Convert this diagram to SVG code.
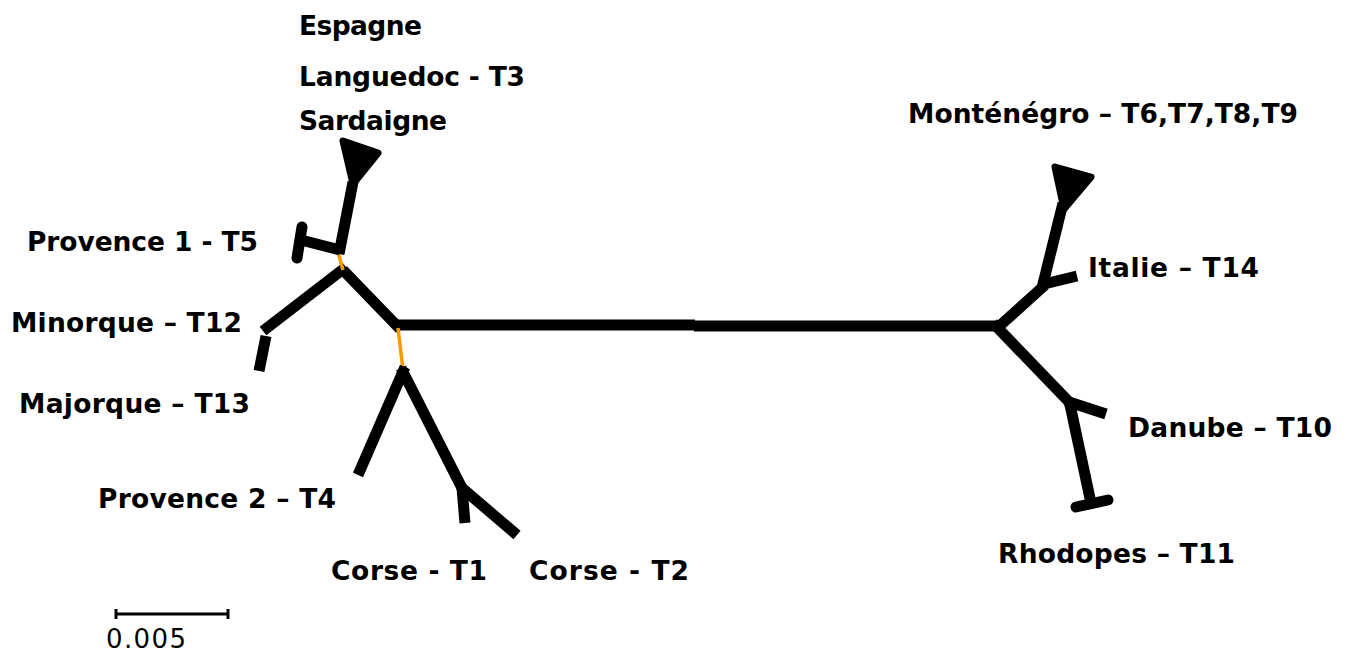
<svg xmlns="http://www.w3.org/2000/svg" width="1351" height="653" viewBox="0 0 1351 653">
<style>
.b{stroke:#000;stroke-width:11;fill:none;stroke-linecap:butt}
.r{stroke:#000;stroke-width:11;fill:none;stroke-linecap:round}
.o{stroke:#FF9900;stroke-width:3.5;fill:none}
.tri{fill:#000;stroke:#000;stroke-width:7;stroke-linejoin:round}
.lbl{font-family:"DejaVu Sans",Verdana,sans-serif;font-weight:bold;font-size:26.5px;fill:#000}
.sc{font-family:"DejaVu Sans",Verdana,sans-serif;font-size:26px;fill:#000}
</style>
<rect width="1351" height="653" fill="#fff"/>
<g id="connectors">
<line class="b" x1="397" y1="325" x2="695" y2="325"/>
<line class="b" x1="694" y1="326" x2="997" y2="326"/>
<line class="b" x1="400" y1="329" x2="343" y2="270"/>
<line class="b" x1="346" y1="267" x2="263" y2="331"/>
<line class="b" x1="266" y1="336" x2="259" y2="371"/>
<line class="o" x1="338" y1="252" x2="343" y2="270"/>
<line class="b" x1="353" y1="182" x2="339" y2="254"/>
<line class="b" x1="340" y1="250" x2="301" y2="240"/>
<line class="o" x1="398" y1="328" x2="403" y2="370"/>
<line class="b" x1="405" y1="367" x2="358" y2="475"/>
<line class="b" x1="401" y1="368" x2="464" y2="492"/>
<line class="b" x1="462" y1="488" x2="465" y2="523"/>
<line class="b" x1="462" y1="488" x2="517" y2="535"/>
<line class="b" x1="995" y1="330" x2="1045" y2="285"/>
<line class="b" x1="1063" y1="203" x2="1042" y2="288"/>
<line class="b" x1="1040" y1="285" x2="1077" y2="276"/>
<line class="b" x1="993" y1="323" x2="1072" y2="405"/>
<line class="b" x1="1066" y1="401" x2="1106" y2="414"/>
<line class="b" x1="1069" y1="400" x2="1091" y2="503"/>
</g>
<g id="node-sardaigne"><polygon class="tri" points="343,141 378,153 353,184"/></g>
<g id="node-provence1"><line class="r" x1="302" y1="227" x2="297" y2="258"/></g>
<g id="node-montenegro"><polygon class="tri" points="1055,167 1091,177 1064,209"/></g>
<g id="node-rhodopes"><line class="r" x1="1076" y1="507" x2="1108" y2="500"/></g>
<g id="labels">
<text class="lbl" x="299" y="35" textLength="123" lengthAdjust="spacing">Espagne</text>
<text class="lbl" x="299" y="86" textLength="226" lengthAdjust="spacing">Languedoc - T3</text>
<text class="lbl" x="299" y="130" textLength="148" lengthAdjust="spacing">Sardaigne</text>
<text class="lbl" x="27" y="251" textLength="231" lengthAdjust="spacing">Provence 1 - T5</text>
<text class="lbl" x="11" y="332" textLength="231" lengthAdjust="spacing">Minorque – T12</text>
<text class="lbl" x="19" y="413" textLength="231" lengthAdjust="spacing">Majorque – T13</text>
<text class="lbl" x="98" y="508" textLength="238" lengthAdjust="spacing">Provence 2 – T4</text>
<text class="lbl" x="331" y="580" textLength="156" lengthAdjust="spacing">Corse - T1</text>
<text class="lbl" x="529" y="580" textLength="160" lengthAdjust="spacing">Corse - T2</text>
<text class="lbl" x="908" y="123" textLength="390" lengthAdjust="spacing">Monténégro – T6,T7,T8,T9</text>
<text class="lbl" x="1088" y="277" textLength="171" lengthAdjust="spacing">Italie – T14</text>
<text class="lbl" x="1128" y="437" textLength="204" lengthAdjust="spacing">Danube – T10</text>
<text class="lbl" x="998" y="563" textLength="237" lengthAdjust="spacing">Rhodopes – T11</text>
</g>
<g id="scale">
<line x1="116" y1="614" x2="228" y2="614" stroke="#000" stroke-width="3"/>
<line x1="116" y1="609" x2="116" y2="619" stroke="#000" stroke-width="3"/>
<line x1="228" y1="609" x2="228" y2="619" stroke="#000" stroke-width="3"/>
<text class="sc" x="106" y="648" textLength="80" lengthAdjust="spacing">0.005</text>
</g>
</svg>
